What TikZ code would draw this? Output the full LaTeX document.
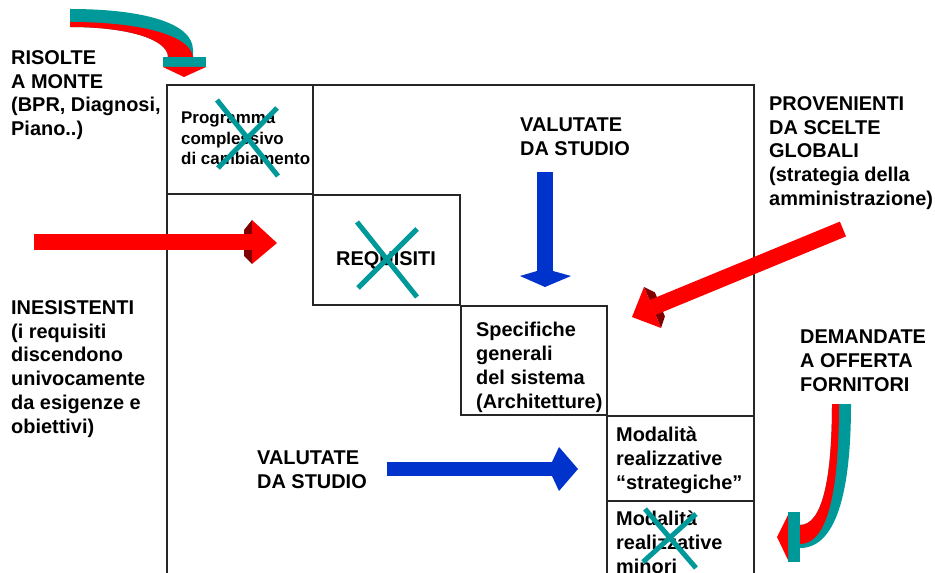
\documentclass[tikz,border=0pt]{standalone}
\usepackage{fontspec}
\setmainfont{Liberation Sans}
\definecolor{tealx}{RGB}{0,153,153}
\definecolor{redx}{RGB}{255,0,0}
\definecolor{darkredx}{RGB}{128,0,0}
\definecolor{bluex}{RGB}{0,51,204}
\begin{document}
\begin{tikzpicture}[x=1bp,y=-1bp,
  frame/.style={draw=black!85, line width=1.3bp},
  txt/.style={anchor=north west, inner sep=0pt, align=left,
    font=\bfseries\fontsize{20}{24}\selectfont},
  smalltxt/.style={txt, font=\bfseries\fontsize{17}{20.5}\selectfont},
  cross/.style={draw=tealx, line width=5bp},
  redfill/.style={fill=redx, draw=none},
  darkfill/.style={fill=darkredx, draw=none},
  bluefill/.style={fill=bluex, draw=none},
  tealfill/.style={fill=tealx, draw=none}]
\useasboundingbox (0,0) rectangle (935,573);

% outer frame and staircase of boxes
\draw[frame] (167,573) -- (167,85) -- (754,85) -- (754,573);
\draw[frame] (167,85) rectangle (313,194);
\draw[frame] (313,195) rectangle (460,305);
\draw[frame] (461,306) rectangle (607,415);
\draw[frame] (607,573) -- (607,416) -- (754,416);
\draw[frame] (607,501) -- (754,501);

% texts inside the boxes
\node[smalltxt] (prog) at (181,112) {Programma\\complessivo\\di cambiamento};
\node[txt, anchor=center] (req) at (386,261) {REQUISITI};
\node[txt] (spec) at (476,322) {Specifiche\\generali\\del sistema\\(Architetture)};
\node[txt] (modstr) at (616,427) {Modalità\\realizzative\\“strategiche”};
\node[txt] (modmin) at (616,511) {Modalità\\realizzative\\minori};

% crossed-out items
\draw[cross] (217,100) -- (278,176) (277,108) -- (218,168);
\draw[cross] (357,222) -- (417,297) (417,229) -- (358,288);
\draw[cross] (645,509) -- (696,568) (696,514) -- (643,562);

% side labels
\node[txt] (risolte) at (11,50) {RISOLTE\\A MONTE\\(BPR, Diagnosi,\\Piano..)};
\node[txt] (inesist) at (11,300) {INESISTENTI\\(i requisiti\\discendono\\univocamente\\da esigenze e\\obiettivi)};
\node[txt] (valtop) at (520,118) {VALUTATE\\DA STUDIO};
\node[txt] (valbot) at (257,451) {VALUTATE\\DA STUDIO};
\node[txt] (proven) at (769,96) {PROVENIENTI\\DA SCELTE\\GLOBALI\\(strategia della\\amministrazione)};
\node[txt] (demand) at (800,330) {DEMANDATE\\A OFFERTA\\FORNITORI};

% curved arrow, top left
\path[tealfill] (70,9) .. controls (140,9) and (193,22) .. (193,50) -- (193,57)
  -- (168,57) .. controls (168,40) and (130,27) .. (70,27) -- cycle;
\path[redfill] (70,22) .. controls (140,22) and (190,35) .. (193,57)
  -- (168,57) .. controls (168,40) and (130,27) .. (70,27) -- cycle;
\path[tealfill] (163,57) rectangle (206,67);
\path[redfill] (163,67) -- (206,67) -- (184,77) -- cycle;

% red horizontal arrow
\path[darkfill] (252,220) -- (244,230) -- (244,256) -- (252,264) -- cycle;
\path[redfill] (34,234) rectangle (252,250);
\path[redfill] (252,220) -- (277,243) -- (252,264) -- cycle;

% red diagonal arrow
\path[darkfill] (644,287) -- (654.9,292.4) -- (664.9,316.4) -- (661,328) -- cycle;
\path[redfill] (839.9,221.6) -- (846,236.4) -- (655.6,314.9) -- (649.4,300.1) -- cycle;
\path[redfill] (644,287) -- (661,328) -- (632,317) -- cycle;

% blue vertical arrow
\path[bluefill] (537,172) rectangle (553,273);
\path[bluefill] (537,271) -- (520,276) -- (545,287) -- (571,276) -- (553,271) -- cycle;

% blue horizontal arrow
\path[bluefill] (387,462) rectangle (556,476);
\path[bluefill] (552,462) -- (559,447) -- (578,469) -- (559,491) -- (552,476) -- cycle;

% curved arrow, bottom right
\path[tealfill] (851,404) .. controls (851,480) and (840,548) .. (800,548)
  -- (800,525) .. controls (822,525) and (832,480) .. (832,404) -- cycle;
\path[redfill] (839,404) .. controls (839,490) and (828,544) .. (800,544)
  -- (800,525) .. controls (822,525) and (832,480) .. (832,404) -- cycle;
\path[tealfill] (788,512) rectangle (800,562);
\path[redfill] (788,515) -- (777,537) -- (788,560) -- cycle;
\end{tikzpicture}
\end{document}
